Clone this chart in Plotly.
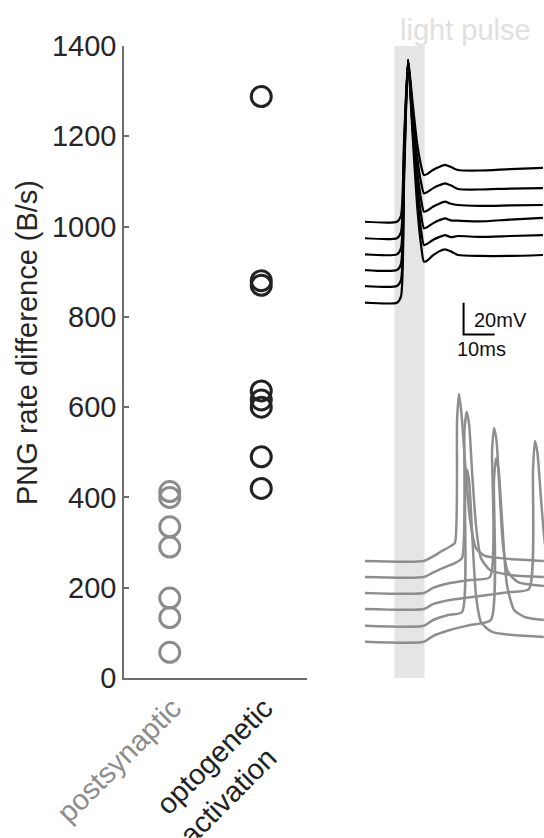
import plotly.graph_objects as go

# ---------------- left panel data ----------------
categories = ["postsynaptic", "optogenetic<br>activation"]
postsynaptic_vals = [57, 134, 177, 290, 335, 400, 413]
optogenetic_vals = [420, 490, 600, 616, 636, 870, 880, 1288]
y_ticks = [0, 200, 400, 600, 800, 1000, 1200, 1400]

# ---------------- right panel data (ms, mV, stacked display) ----------------
t_black = [0, 10.3, 11.6, 12.6, 13.9, 15.2, 16.8, 18.1, 19.0, 20.0, 21.9, 23.9, 25.8, 27.7, 30.0, 37.1, 46.8, 57.4]
black_1 = [288.2, 288.2, 292.0, 339.3, 390.4, 366.4, 338.1, 323.6, 317.7, 318.3, 320.9, 322.8, 324.1, 322.8, 320.9, 320.6, 321.5, 322.2]
black_2 = [277.8, 277.8, 281.5, 334.1, 390.4, 362.6, 329.7, 312.9, 306.2, 306.8, 309.3, 311.2, 312.5, 311.2, 308.9, 308.6, 309.2, 309.5]
black_3 = [267.6, 267.6, 271.4, 329.0, 390.4, 358.7, 321.4, 302.2, 294.6, 295.2, 297.7, 299.6, 300.9, 299.6, 298.8, 298.2, 298.5, 298.8]
black_4 = [257.7, 257.7, 261.5, 324.1, 390.4, 355.3, 313.8, 292.6, 284.1, 284.7, 287.2, 289.1, 290.4, 289.1, 288.9, 288.4, 289.6, 290.6]
black_5 = [247.6, 247.6, 251.4, 319.0, 390.4, 351.8, 306.2, 282.9, 273.5, 274.1, 276.7, 278.5, 279.8, 278.5, 279.2, 278.6, 279.2, 279.8]
black_6 = [237.1, 237.1, 240.9, 313.7, 390.4, 348.3, 298.7, 273.1, 263.0, 263.6, 266.9, 269.5, 270.8, 269.5, 267.2, 266.6, 266.6, 267.2]

gray_a_t = [0, 19.0, 21.6, 24.8, 27.7, 29.0, 29.7, 30.3, 31.1, 32.3, 33.9, 35.8, 38.7, 46.8, 57.7]
gray_a_v = [73.9, 73.9, 76.4, 80.2, 83.4, 85.3, 163.0, 179.4, 167.4, 135.8, 99.8, 82.1, 77.1, 75.2, 73.9]
gray_b_t = [0, 19.0, 21.6, 25.8, 29.0, 31.3, 32.1, 32.8, 33.6, 34.5, 35.8, 37.4, 40.3, 46.8, 57.7]
gray_b_v = [63.8, 63.8, 66.3, 70.1, 72.6, 75.8, 156.7, 168.2, 159.8, 131.4, 96.6, 75.8, 68.2, 65.1, 63.8]
gray_c_t = [0, 19.0, 21.9, 27.4, 33.9, 40.3, 41.0, 41.6, 42.4, 43.4, 44.5, 46.1, 49.4, 57.7]
gray_c_v = [53.7, 53.7, 56.9, 60.0, 61.9, 63.8, 144.0, 157.9, 150.3, 118.8, 84.0, 67.0, 60.6, 58.1]
gray_d_t = [0, 19.0, 21.9, 27.4, 33.9, 40.6, 41.6, 42.3, 43.1, 44.2, 45.8, 48.1, 51.6, 57.7]
gray_d_v = [22.9, 22.9, 26.5, 30.3, 33.5, 36.6, 125.1, 139.0, 131.4, 99.8, 58.7, 43.0, 38.5, 36.6]
gray_e_t = [0, 19.0, 21.9, 26.8, 31.3, 32.3, 33.0, 33.7, 34.5, 35.8, 37.4, 41.0, 57.7]
gray_e_v = [33.0, 33.0, 36.6, 39.8, 41.7, 112.4, 131.4, 121.9, 93.5, 52.4, 35.4, 29.1, 25.9]
gray_f_t = [0, 19.0, 21.9, 27.4, 37.1, 46.8, 52.9, 54.2, 54.8, 55.6, 56.8, 58.1, 59.7]
gray_f_v = [43.6, 43.6, 46.7, 49.3, 51.8, 54.3, 56.2, 131.4, 149.7, 142.8, 112.4, 84.0, 68.2]

pulse_start_ms = 9.5
pulse_end_ms = 19.2
scalebar_t0 = 31.8
scalebar_v0 = 217.0
scalebar_ms = 10
scalebar_mv = 20

FONT = "Liberation Sans, Arial, sans-serif"
GRAY = "#8c8c8c"
DARK = "#222222"
AXIS = "#6e6e6e"

fig = go.Figure()

fig.add_trace(go.Scatter(
    x=[0] * len(postsynaptic_vals), y=postsynaptic_vals, mode="markers",
    marker=dict(symbol="circle-open", size=20, color=GRAY, line=dict(width=3, color=GRAY)),
    xaxis="x", yaxis="y", showlegend=False))
fig.add_trace(go.Scatter(
    x=[1] * len(optogenetic_vals), y=optogenetic_vals, mode="markers",
    marker=dict(symbol="circle-open", size=20, color=DARK, line=dict(width=3, color=DARK)),
    xaxis="x", yaxis="y", showlegend=False))

for tt, vv in [(gray_a_t, gray_a_v), (gray_b_t, gray_b_v), (gray_c_t, gray_c_v),
               (gray_d_t, gray_d_v), (gray_e_t, gray_e_v), (gray_f_t, gray_f_v)]:
    fig.add_trace(go.Scatter(x=tt, y=vv, mode="lines",
                             line=dict(color="#8e8e8e", width=2.5, shape="spline", smoothing=0.6),
                             xaxis="x2", yaxis="y2", showlegend=False, hoverinfo="skip"))

for vv in [black_1, black_2, black_3, black_4, black_5, black_6]:
    fig.add_trace(go.Scatter(x=t_black, y=vv, mode="lines",
                             line=dict(color="#000000", width=2.2, shape="spline", smoothing=0.6),
                             xaxis="x2", yaxis="y2", showlegend=False, hoverinfo="skip"))

# scale bar
fig.add_trace(go.Scatter(
    x=[scalebar_t0, scalebar_t0, scalebar_t0 + scalebar_ms],
    y=[scalebar_v0 + scalebar_mv, scalebar_v0, scalebar_v0],
    mode="lines", line=dict(color="#000000", width=2),
    xaxis="x2", yaxis="y2", showlegend=False, hoverinfo="skip"))

ticktext = [
    f'<span style="color:{GRAY}">postsynaptic</span>',
    f'<span style="color:{DARK}">optogenetic<br>activation&nbsp;&nbsp;&nbsp;&nbsp;</span>',
]

W, H = 544, 838
fig.update_layout(
    width=W, height=H,
    margin=dict(l=0, r=0, t=0, b=0),
    paper_bgcolor="white", plot_bgcolor="white",
    font=dict(family=FONT, color="#262626"),
    template="none",
    xaxis=dict(domain=[124 / W, 307 / W], range=[-0.5, 1.5],
               tickvals=[0, 1], ticktext=ticktext, tickangle=-45,
               tickfont=dict(size=29, family=FONT), ticklabelshift=3,
               showline=True, linecolor=AXIS, linewidth=1.5, ticks="",
               showgrid=False, zeroline=False, automargin=False),
    yaxis=dict(domain=[1 - 678 / H, 1 - 46 / H], range=[0, 1400],
               tickvals=y_ticks, tickfont=dict(size=29, family=FONT, color="#262626"),
               ticks="inside", ticklen=5, tickcolor=AXIS, tickwidth=1.5,
               ticklabelstandoff=0,
               showline=True, linecolor=AXIS, linewidth=1.5,
               showgrid=False, zeroline=False, automargin=False),
    xaxis2=dict(domain=[360 / W, 1], range=[-5 / 3.1, 179 / 3.1], visible=False,
                anchor="y2"),
    yaxis2=dict(domain=[1 - 678 / H, 1 - 46 / H], range=[0, 632 * 0.6317], visible=False,
                anchor="x2"),
    shapes=[dict(type="rect", xref="x2", yref="y2 domain",
                 x0=pulse_start_ms, x1=pulse_end_ms, y0=0, y1=1,
                 fillcolor="#e5e5e5", line=dict(width=0), layer="below")],
    annotations=[
        dict(text="PNG rate difference (B/s)", textangle=-90, xref="paper", yref="paper",
             x=27 / W, y=1 - 343 / H, showarrow=False, xanchor="center", yanchor="middle",
             font=dict(size=29, family=FONT, color="#262626")),
        dict(text="light pulse", xref="x2", yref="paper", x=(398 - 365) / 3.1, y=1 - 30 / H,
             xanchor="left", yanchor="middle", showarrow=False,
             font=dict(size=29, family=FONT, color="#e0e0e0")),
        dict(text="20mV", xref="x2", yref="y2", x=scalebar_t0 + 2.6, y=scalebar_v0 + 9,
             xanchor="left", yanchor="middle", showarrow=False,
             font=dict(size=20, family=FONT, color="#111111")),
        dict(text="10ms", xref="x2", yref="y2", x=scalebar_t0 + 5.8, y=scalebar_v0 - 9,
             xanchor="center", yanchor="middle", showarrow=False,
             font=dict(size=20, family=FONT, color="#111111")),
    ],
)

fig.write_html("out.html",
               config={"displayModeBar": False},
               post_script="document.body.style.margin='0';document.body.style.padding='0';"
                           "document.body.style.overflow='hidden';")
